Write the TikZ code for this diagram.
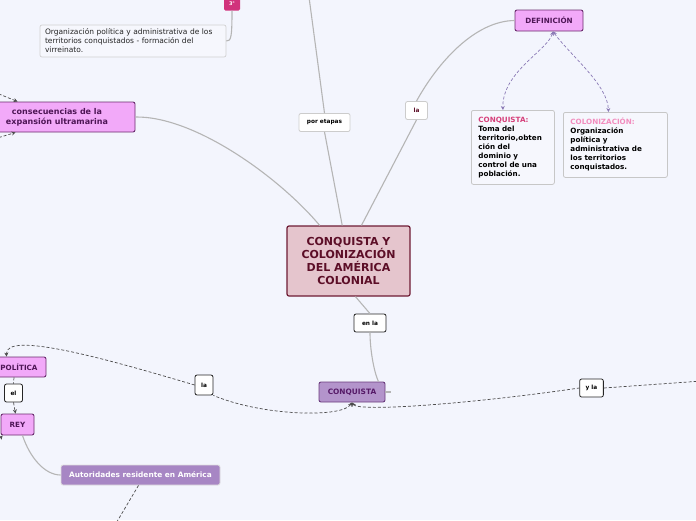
\documentclass[tikz,border=0pt]{standalone}
\usepackage{fontspec}
\setmainfont{DejaVu Sans}
\usepackage{tikz}
\usetikzlibrary{arrows.meta, positioning, calc}
\usepackage{xcolor}
\definecolor{cBack}{HTML}{F3F5FD}
\definecolor{cNote}{HTML}{F6F7FD}
\definecolor{cMain}{HTML}{E5C5CD}
\definecolor{cMainLine}{HTML}{6E1B34}
\definecolor{cMainText}{HTML}{5C0E27}
\definecolor{cPink}{HTML}{F2A9F9}
\definecolor{cPinkLine}{HTML}{6A2C6E}
\definecolor{cPinkText}{HTML}{4E1656}
\definecolor{cLila}{HTML}{B394CB}
\definecolor{cLilaLine}{HTML}{6B3C7E}
\definecolor{cLilaText}{HTML}{561A68}
\definecolor{cAuto}{HTML}{A786C4}
\definecolor{cLine}{HTML}{B5B5B5}
\definecolor{cDash}{HTML}{8A79B5}
\definecolor{cMark}{HTML}{D1337C}
\definecolor{cConq}{HTML}{D6407A}
\definecolor{cColo}{HTML}{F28DBE}

\begin{document}
\begin{tikzpicture}[
  x=1pt, y=-1pt,
  >=Stealth,
  font=\fontsize{7.2}{9}\selectfont,
  tbox/.style    = {rectangle, rounded corners=2pt, align=center, inner sep=3pt},
  central/.style = {tbox, draw=cMainLine, line width=1.2pt, fill=cMain, text=cMainText,
                    font=\fontsize{11}{13.3}\selectfont\bfseries,
                    minimum width=123pt, minimum height=70pt},
  topic/.style   = {tbox, draw=cPinkLine, line width=0.9pt, fill=cPink, text=cPinkText,
                    font=\fontsize{7.2}{9}\selectfont\bfseries, minimum height=21pt},
  sub/.style     = {tbox, draw=cLilaLine, line width=0.9pt, fill=cLila, text=cLilaText,
                    font=\fontsize{7.4}{9}\selectfont\bfseries, minimum height=20pt},
  authority/.style = {tbox, draw=black!12, line width=0.8pt, fill=cAuto, text=white,
                    font=\fontsize{7.4}{9}\selectfont\bfseries, minimum height=20pt},
  lab/.style     = {tbox, fill=white, draw=black!85, line width=0.8pt,
                    font=\fontsize{5.8}{7}\selectfont\bfseries, minimum height=18pt,
                    inner xsep=8pt},
  labsoft/.style = {lab, draw=black!20},
  stamp/.style   = {tbox, rounded corners=1.5pt, fill=cMark, text=white, inner sep=1pt,
                    font=\fontsize{5}{6}\selectfont\bfseries,
                    minimum width=16pt, minimum height=14pt},
  note/.style    = {tbox, fill=cNote, draw=black!18, line width=0.7pt, align=left,
                    font=\fontsize{7.5}{9}\selectfont, text=black!85, inner xsep=5pt},
  defbox/.style  = {tbox, fill=cNote, draw=black!22, line width=0.8pt, align=left,
                    font=\fontsize{7.2}{9}\selectfont\bfseries, inner xsep=7pt,
                    anchor=north west},
  branch/.style  = {draw=cLine, line width=1.1pt},
  rel/.style     = {draw=black!70, line width=0.7pt, dash pattern=on 3pt off 2pt},
  defrel/.style  = {draw=cDash, line width=0.7pt, dash pattern=on 3pt off 2pt},
  headtip/.style = {-{Stealth[length=4pt, width=4pt]}},
  backtip/.style = {{Stealth[length=4pt, width=4pt]}-},
  bothtip/.style = {{Stealth[length=4pt, width=4pt]}-{Stealth[length=4pt, width=4pt]}}]

\useasboundingbox (0,0) rectangle (696,520);
\fill[cBack] (0,0) rectangle (696,520);

% ---- centre and upper branches ---------------------------------------------
\node[central] (main) at (348.5,261)
  {CONQUISTA Y\\ COLONIZACIÓN\\ DEL AMÉRICA\\ COLONIAL};
\node[topic, minimum width=68pt] (defi) at (549,20.5) {DEFINICIÓN};
\node[labsoft, text=cMainText] (la) at (416.5,110.5) {la};
\node[labsoft] (etapas) at (324.5,122.5) {por etapas};

\node[defbox, text width=69pt, minimum height=74pt] (conqdef) at (471,110)
  {\textcolor{cConq}{CONQUISTA:}\\ Toma del\\ territorio,obten\\ ción del\\
   dominio y\\ control de una\\ población.};
\node[defbox, text width=90pt, minimum height=65pt] (colondef) at (563,112)
  {\textcolor{cColo}{COLONIZACIÓN:}\\ Organización\\ política y\\
   administrativa de\\ los territorios\\ conquistados.};

\node[topic, font=\fontsize{8}{10}\selectfont\bfseries, minimum width=156pt,
      minimum height=30pt] (cons) at (57,117)
  {consecuencias de la\\ expansión ultramarina};

\node[stamp] (tercero) at (232,3.5) {3°};
\node[note, text width=176pt, minimum height=32pt] (virrey) at (133,41)
  {Organización política y administrativa de los\\
   territorios conquistados - formación del\\ virreinato.};

% ---- lower branches ----------------------------------------------------------
\node[lab] (enla) at (370,323) {en la};
\node[sub, minimum width=66pt] (conq) at (352,392) {CONQUISTA};
\node[lab, inner xsep=6pt, minimum height=20pt] (la2) at (204,385) {la};
\node[lab, inner xsep=6pt] (yla) at (591.5,388) {y la};
\node[topic, minimum width=54pt, minimum height=20pt] (pol) at (19,367) {POLÍTICA};
\node[lab, inner xsep=6pt] (el) at (13.5,393) {el};
\node[topic, minimum width=33pt] (rey) at (17.5,424.5) {REY};
\node[authority, minimum width=159pt] (autor) at (140.5,475) {Autoridades residente en América};

% loose ends leaving the picture
\coordinate (topEnd) at (309,-3);
\coordinate (consInA) at (-6,92);
\coordinate (consInB) at (-6,139);
\coordinate (reyIn) at (-6,446);
\coordinate (rightEnd) at (702,381);
\coordinate (autorEnd) at (115,525);

% ---- branches ------------------------------------------------------------------
\draw[branch] (main.100) -- (etapas.south);
\draw[branch] (etapas.north) -- (topEnd);
\draw[branch] (main.70) -- (la.south);
\draw[branch] (la.north) .. controls (438,62) and (475,21) .. (defi.west);
\draw[branch] (cons.east) .. controls (195,116) and (280,178) .. (main.129);
\draw[branch] (tercero.south) .. controls (232,38) and (231,41) .. (virrey.east);
\draw[branch] (main.-79) -- (enla.north);
\draw[branch] (enla.south) .. controls (370,350) and (374,372) .. ($(conq.north east)+(-7,0)$);
\draw[branch] (conq.east) -- ++(6,0);
\draw[branch] ($(rey.south)+(5,0)$) .. controls (30,458) and (45,475) .. (autor.west);

% ---- dashed relations ----------------------------------------------------------
\draw[defrel, bothtip] ($(defi.south)+(4,0)$) .. controls (548,50) and (502,72)
      .. ($(conqdef.north)+(-10,0)$);
\draw[defrel, bothtip] ($(defi.south)+(4,0)$) .. controls (570,55) and (608,85)
      .. ($(colondef.north)+(-7,0)$);

\draw[rel, backtip] (conq.south) .. controls (342,418) and (262,416) .. (la2.south east);
\draw[rel, headtip] (la2.west) .. controls (110,360) and (5,330) .. ($(pol.north west)+(15,0)$);
\draw[rel, backtip] (conq.south) .. controls (358,412) and (470,404) .. (yla.west);
\draw[rel] (yla.east) -- (rightEnd);

\draw[rel] ($(pol.south)+(-5,0)$) -- (el.north);
\draw[rel, headtip] (el.south) -- ($(rey.north)+(-2,0)$);
\draw[rel, headtip] (reyIn) -- ($(rey.south west)+(2,0)$);
\draw[rel] ($(autor.south)+(-2,0)$) -- (autorEnd);

\draw[rel, headtip] (consInA) -- ($(cons.north west)+(39,0)$);
\draw[rel, headtip] (consInB) -- ($(cons.south west)+(37,0)$);

\end{tikzpicture}
\end{document}
